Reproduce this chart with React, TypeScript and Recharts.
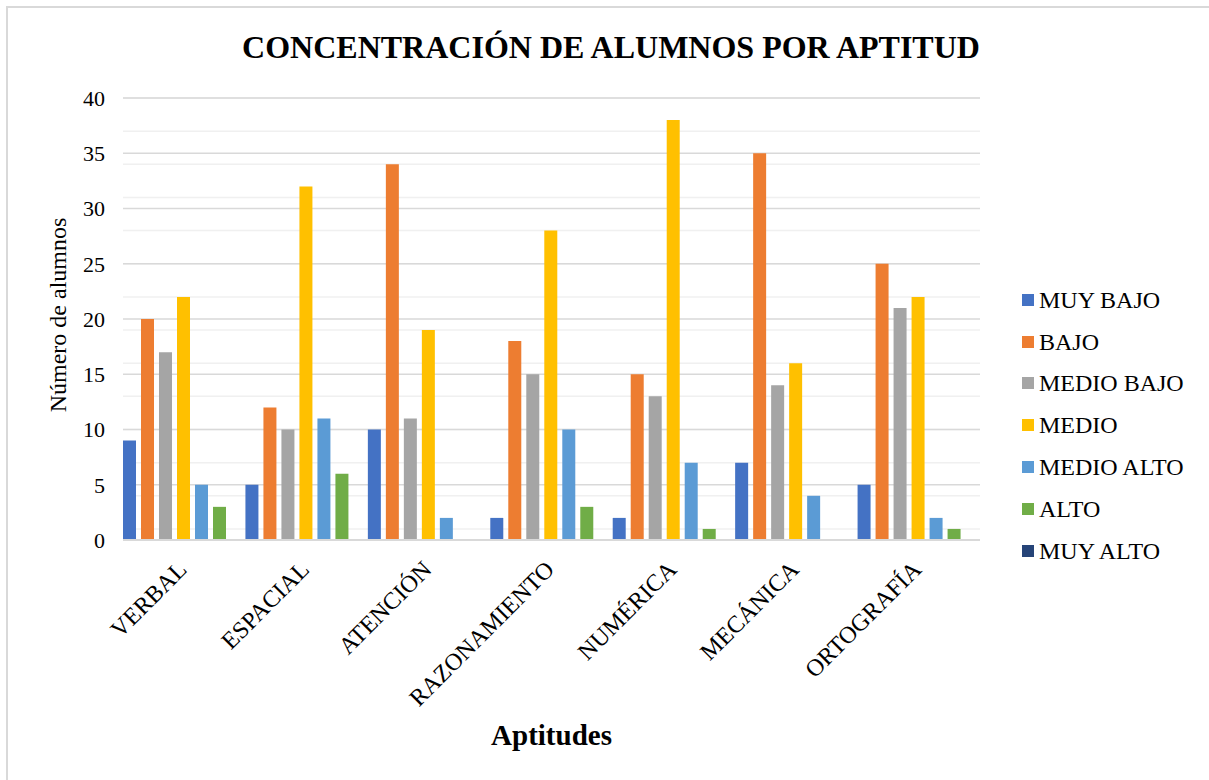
import React from 'react';
import { BarChart, Bar, XAxis, YAxis, CartesianGrid, Label } from 'recharts';

const categories = ['VERBAL', 'ESPACIAL', 'ATENCIÓN', 'RAZONAMIENTO', 'NUMÉRICA', 'MECÁNICA', 'ORTOGRAFÍA'];
const muyBajo = [9, 5, 10, 2, 2, 7, 5];
const bajo = [20, 12, 34, 18, 15, 35, 25];
const medioBajo = [17, 10, 11, 15, 13, 14, 21];
const medio = [22, 32, 19, 28, 38, 16, 22];
const medioAlto = [5, 11, 2, 10, 7, 4, 2];
const alto = [3, 6, 0, 3, 1, 0, 1];
const muyAlto = [0, 0, 0, 0, 0, 0, 0];

const yTicks = [0, 5, 10, 15, 20, 25, 30, 35, 40];
const minorTicks = [0, 1, 2, 3, 4, 5, 6, 7, 8, 9, 10, 11, 12, 13, 14, 15, 16, 17, 18, 19, 20, 21, 22, 23, 24, 25, 26, 27, 28, 29, 30, 31, 32, 33, 34, 35, 36, 37, 38, 39, 40];

const seriesNames = ['MUY BAJO', 'BAJO', 'MEDIO BAJO', 'MEDIO', 'MEDIO ALTO', 'ALTO', 'MUY ALTO'];
const seriesKeys = ['muyBajo', 'bajo', 'medioBajo', 'medio', 'medioAlto', 'alto', 'muyAlto'];
const seriesValues = [muyBajo, bajo, medioBajo, medio, medioAlto, alto, muyAlto];
const seriesColors = ['#4472C4', '#ED7D31', '#A5A5A5', '#FFC000', '#5B9BD5', '#70AD47', '#264478'];

const FONT = '"Liberation Serif", "Times New Roman", serif';

const data = categories.map((c, i) => {
  const row: Record<string, string | number> = { name: c };
  seriesKeys.forEach((k, s) => {
    row[k] = seriesValues[s][i];
  });
  return row;
});

const XTick = (props: any) => {
  const { x, y, payload } = props;
  const ox = x + 4;
  const oy = y + 31;
  return (
    <text
      x={ox}
      y={oy}
      transform={`rotate(-45, ${ox}, ${oy})`}
      textAnchor="end"
      fontSize={24}
      fontFamily={FONT}
      fill="#000"
    >
      {payload.value}
    </text>
  );
};

export default function App() {
  return (
    <div style={{ position: 'absolute', left: 0, top: 0, width: 1209, height: 780, background: '#fff', overflow: 'hidden' }}>
      <div
        style={{
          position: 'absolute',
          left: 6,
          top: 6,
          width: 1220,
          height: 800,
          borderLeft: '2px solid #d9d9d9',
          borderTop: '2px solid #d9d9d9',
        }}
      />
      <div
        style={{
          position: 'absolute',
          left: 0,
          top: 27,
          width: 1222,
          textAlign: 'center',
          fontFamily: FONT,
          fontWeight: 'bold',
          fontSize: 32,
          lineHeight: '40px',
          color: '#000',
        }}
      >
        CONCENTRACIÓN DE ALUMNOS POR APTITUD
      </div>
      <div style={{ position: 'absolute', left: 0, top: 0 }}>
        <BarChart
          width={1209}
          height={780}
          data={data}
          margin={{ top: 98, right: 229, bottom: 0, left: 0 }}
          barCategoryGap={0}
          barGap={5}
        >
          <CartesianGrid vertical={false} horizontalValues={minorTicks} stroke="#f0f0f0" strokeWidth={1.5} />
          <CartesianGrid vertical={false} horizontalValues={yTicks} stroke="#d9d9d9" strokeWidth={1.5} />
          <XAxis
            dataKey="name"
            height={240}
            interval={0}
            tick={<XTick />}
            tickLine={false}
            tickSize={0}
            tickMargin={0}
            axisLine={{ stroke: '#d9d9d9', strokeWidth: 2 }}
          >
            <Label
              content={(p: any) => {
                const vb = p.viewBox;
                return (
                  <text
                    x={vb.x + vb.width / 2}
                    y={745}
                    textAnchor="middle"
                    fontFamily={FONT}
                    fontWeight="bold"
                    fontSize={29}
                    fill="#000"
                  >
                    Aptitudes
                  </text>
                );
              }}
            />
          </XAxis>
          <YAxis
            domain={[0, 40]}
            ticks={yTicks}
            width={123}
            axisLine={false}
            tickLine={false}
            tickSize={0}
            tickMargin={18}
            tick={{ fontSize: 22, fontFamily: FONT, fill: '#000' }}
          >
            <Label
              content={(p: any) => {
                const vb = p.viewBox;
                const cx = 66;
                const cy = vb.y + vb.height / 2 - 4;
                return (
                  <text
                    x={cx}
                    y={cy}
                    transform={`rotate(-90, ${cx}, ${cy})`}
                    textAnchor="middle"
                    fontFamily={FONT}
                    fontSize={24}
                    fill="#000"
                  >
                    Número de alumnos
                  </text>
                );
              }}
            />
          </YAxis>
          {seriesKeys.map((k, i) => (
            <Bar key={k} dataKey={k} name={seriesNames[i]} fill={seriesColors[i]} isAnimationActive={false} />
          ))}
        </BarChart>
      </div>
      <div style={{ position: 'absolute', left: 1022, top: 279, fontFamily: FONT, fontSize: 24, color: '#000' }}>
        {seriesNames.map((n, i) => (
          <div key={n} style={{ display: 'flex', alignItems: 'center', height: 41.8, whiteSpace: 'nowrap' }}>
            <span style={{ display: 'inline-block', width: 12, height: 12, background: seriesColors[i], marginRight: 5, flexShrink: 0 }} />
            <span style={{ lineHeight: '24px' }}>{n}</span>
          </div>
        ))}
      </div>
    </div>
  );
}
